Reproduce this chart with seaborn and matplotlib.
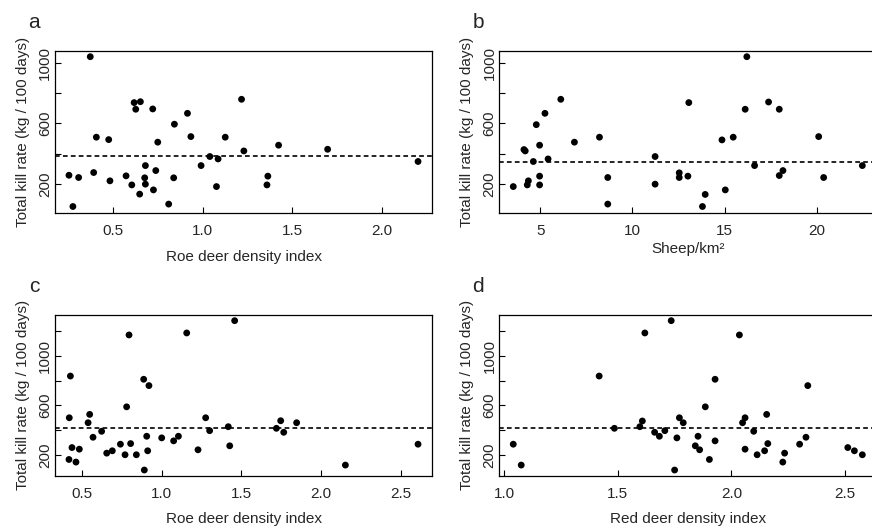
import pandas as pd
import matplotlib
matplotlib.use("Agg")
import matplotlib.pyplot as plt
import seaborn as sns

# panel a / b: same kill rates, two different x variables
kill_ab = [1042, 257, 50, 242, 275, 509, 493, 220, 253, 193, 738, 694, 744, 132,
           321, 240, 198, 696, 160, 288, 476, 66, 240, 595, 667, 513, 321, 381,
           365, 182, 509, 760, 418, 251, 193, 456, 429, 348]
roe_a = [0.371, 0.252, 0.274, 0.306, 0.390, 0.405, 0.474, 0.481, 0.571, 0.603,
         0.616, 0.625, 0.651, 0.647, 0.679, 0.675, 0.679, 0.720, 0.724, 0.737,
         0.748, 0.809, 0.837, 0.841, 0.914, 0.933, 0.990, 1.039, 1.085, 1.076,
         1.125, 1.216, 1.229, 1.363, 1.358, 1.423, 1.697, 2.202]

kill_b = [182, 427, 418, 220, 193, 348, 592, 456, 251, 193, 667, 365, 760, 476,
          509, 242, 66, 381, 198, 273, 242, 251, 738, 50, 130, 491, 160, 509,
          694, 1042, 321, 742, 255, 694, 288, 513, 242, 321]
sheep_b = [3.53, 4.11, 4.18, 4.35, 4.29, 4.62, 4.78, 4.96, 4.96, 4.96, 5.25, 5.42,
           6.11, 6.85, 8.21, 8.66, 8.66, 11.23, 11.23, 12.54, 12.54, 13.01, 13.06,
           13.80, 13.95, 14.86, 15.04, 15.47, 16.12, 16.21, 16.63, 17.39, 17.97,
           17.97, 18.17, 20.11, 20.38, 22.48]

kill_c = [501, 837, 165, 261, 144, 248, 461, 528, 344, 392, 216, 235, 288, 203,
          589, 1168, 293, 203, 811, 80, 352, 235, 760, 339, 315, 352, 1184, 243,
          501, 397, 429, 275, 1283, 416, 477, 384, 461, 120, 288]
roe_c = [0.420, 0.427, 0.418, 0.437, 0.462, 0.483, 0.538, 0.548, 0.569, 0.623,
         0.655, 0.690, 0.741, 0.770, 0.780, 0.795, 0.805, 0.841, 0.887, 0.891,
         0.906, 0.912, 0.920, 1.000, 1.075, 1.105, 1.157, 1.228, 1.276, 1.301,
         1.418, 1.427, 1.458, 1.720, 1.747, 1.766, 1.847, 2.153, 2.609]

kill_d = [288, 120, 837, 416, 429, 475, 1184, 384, 352, 397, 1283, 80, 339, 501,
          461, 275, 352, 243, 589, 165, 811, 315, 1168, 461, 501, 248, 392, 203,
          528, 293, 235, 144, 216, 288, 344, 760, 261, 235, 203]
red_d = [1.040, 1.075, 1.418, 1.485, 1.597, 1.608, 1.619, 1.662, 1.683, 1.707,
         1.735, 1.750, 1.760, 1.771, 1.788, 1.841, 1.853, 1.860, 1.885, 1.903,
         1.928, 1.928, 2.035, 2.049, 2.060, 2.060, 2.098, 2.113, 2.155, 2.160,
         2.146, 2.226, 2.234, 2.300, 2.328, 2.336, 2.512, 2.541, 2.576]

mean_lines = [385, 343, 416, 421]
panel_letters = ["a", "b", "c", "d"]
x_labels = ["Roe deer density index", "Sheep/km\u00b2",
            "Roe deer density index", "Red deer density index"]
x_ticks = [[0.5, 1.0, 1.5, 2.0], [5, 10, 15, 20],
           [0.5, 1.0, 1.5, 2.0, 2.5], [1.0, 1.5, 2.0, 2.5]]
y_ticks_top = [200, 400, 600, 800, 1000]
y_ticks_bottom = [200, 400, 600, 800, 1000, 1200]
y_shown = [200, 600, 1000]

sns.set_style("ticks")
plt.rcParams['font.family'] = ['Liberation Sans', 'DejaVu Sans']
plt.rcParams['lines.scale_dashes'] = False

W, H = 872, 529
fig = plt.figure(figsize=(W / 100, H / 100), dpi=100)

# panel boxes in pixels: left, top, right, bottom
boxes = [(55, 50.7, 432, 212.5), (499.3, 50.7, 876.3, 212.5),
         (55, 314.7, 432, 476), (499.3, 314.7, 876.3, 476)]
datasets = [(roe_a, kill_ab), (sheep_b, kill_b), (roe_c, kill_c), (red_d, kill_d)]
label_pads = [9, 3.5, 8, 8]
fs = 11

for i, (box, (xs, ys)) in enumerate(zip(boxes, datasets)):
    l, t, r, b = box
    ax = fig.add_axes([l / W, 1 - b / H, (r - l) / W, (b - t) / H])
    df = pd.DataFrame({"x": xs, "y": ys})
    sns.scatterplot(data=df, x="x", y="y", ax=ax, color="black", s=24,
                    edgecolor="none", linewidth=0)
    ax.axhline(mean_lines[i], color="black", lw=1.2, dashes=(3.4, 2.3))
    ax.margins(0.04)

    ax.set_xticks(x_ticks[i])
    if i == 1:
        ax.set_xticklabels([str(v) for v in x_ticks[i]])
    yt = y_ticks_top if i < 2 else y_ticks_bottom
    ax.set_yticks(yt)
    ax.set_yticklabels([str(v) if v in y_shown else "" for v in yt])
    ax.tick_params(axis="both", direction="in", length=4.5, width=0.8,
                   labelsize=fs, color="black")
    ax.tick_params(axis="x", pad=8)
    ax.tick_params(axis="y", pad=2, labelrotation=90)
    for lab in ax.get_yticklabels():
        lab.set_va("center")

    for sp in ax.spines.values():
        sp.set_visible(True)
        sp.set_linewidth(0.9)
        sp.set_color("black")

    ax.set_xlabel(x_labels[i], fontsize=fs, labelpad=label_pads[i])
    ax.set_ylabel("Total kill rate (kg / 100 days)", fontsize=fs, labelpad=6)
    fig.text((l - 21) / W, 1 - (t - 28) / H, panel_letters[i], fontsize=15,
             ha="center", va="center")

fig.savefig("out.png", dpi=100)
